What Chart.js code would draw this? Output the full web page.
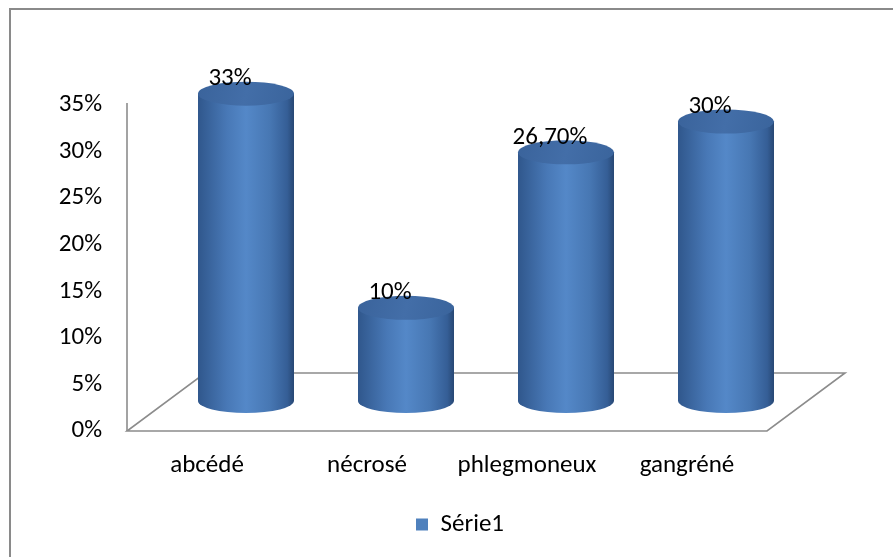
<!DOCTYPE html>
<html>
<head>
<meta charset="utf-8">
<script src="https://cdn.jsdelivr.net/npm/chart.js@4"></script>
<style>
  html, body { margin: 0; padding: 0; overflow: hidden; background: #fff; }
  #frame { position: absolute; left: 9px; top: 8px; width: 920px; height: 600px;
           border-left: 2px solid #8a8a8a; border-top: 2px solid #8a8a8a; }
  #wrap { position: absolute; left: 0; top: 0; width: 893px; height: 557px; }
</style>
</head>
<body>
<div id="frame"></div>
<div id="wrap"><canvas id="c" width="893" height="557"></canvas></div>
<script>
// Data
const categories = ['abcédé', 'nécrosé', 'phlegmoneux', 'gangréné'];
const values = [33, 10, 26.7, 30];
const valueLabels = ['33%', '10%', '26,70%', '30%'];
const yTicks = [0, 5, 10, 15, 20, 25, 30, 35];
const seriesName = 'Série1';

const FONT = 'Carlito, Lato, sans-serif';
const FONT_SIZE = 25;
const DEPTH = { x: 78, y: 58 };    // depth of the 3D floor
const BAR_SHIFT = { x: 39, y: 30 }; // cylinders stand halfway into the floor
const RY = 12;                      // vertical radius of cylinder ellipses

// Draws the 3D floor, the cylinders and their value labels
const cylinders = {
  id: 'cylinders',
  beforeDatasetsDraw(chart) {
    const { ctx, chartArea: a, scales: { y } } = chart;
    ctx.save();
    ctx.strokeStyle = '#8c8c8c';
    ctx.lineWidth = 1.6;
    // vertical axis line
    ctx.beginPath();
    ctx.moveTo(a.left, y.getPixelForValue(yTicks[yTicks.length - 1]) - 2);
    ctx.lineTo(a.left, a.bottom);
    ctx.stroke();
    // floor
    ctx.beginPath();
    ctx.moveTo(a.left, a.bottom);
    ctx.lineTo(a.right, a.bottom);
    ctx.lineTo(a.right + DEPTH.x, a.bottom - DEPTH.y);
    ctx.lineTo(a.left + DEPTH.x, a.bottom - DEPTH.y);
    ctx.closePath();
    ctx.stroke();

    const meta = chart.getDatasetMeta(0);
    meta.data.forEach((el, i) => {
      const cx = el.x + BAR_SHIFT.x;
      const yTop = el.y - BAR_SHIFT.y;
      const yBase = el.base - BAR_SHIFT.y;
      const rx = el.width / 2;

      // body
      const g = ctx.createLinearGradient(cx - rx, 0, cx + rx, 0);
      g.addColorStop(0, '#30578c');
      g.addColorStop(0.3, '#4878b6');
      g.addColorStop(0.5, '#5488c8');
      g.addColorStop(0.75, '#4777b3');
      g.addColorStop(0.93, '#355e96');
      g.addColorStop(1, '#284874');
      ctx.beginPath();
      ctx.moveTo(cx - rx, yTop);
      ctx.lineTo(cx - rx, yBase);
      ctx.ellipse(cx, yBase, rx, RY, 0, Math.PI, 0, true);
      ctx.lineTo(cx + rx, yTop);
      ctx.closePath();
      ctx.fillStyle = g;
      ctx.fill();

      // top face
      const gt = ctx.createLinearGradient(cx - rx, yTop - RY, cx + rx, yTop + RY);
      gt.addColorStop(0, '#3a639b');
      gt.addColorStop(0.5, '#436ea8');
      gt.addColorStop(1, '#3a649c');
      ctx.beginPath();
      ctx.ellipse(cx, yTop, rx, RY, 0, 0, Math.PI * 2);
      ctx.fillStyle = gt;
      ctx.fill();

      // value label
      ctx.fillStyle = '#000';
      ctx.font = FONT_SIZE + 'px ' + FONT;
      ctx.textAlign = 'center';
      ctx.textBaseline = 'middle';
      ctx.fillText(valueLabels[i], cx - 16, yTop - RY - 3);
    });
    ctx.restore();
    return false;
  }
};

new Chart(document.getElementById('c'), {
  type: 'bar',
  data: {
    labels: categories,
    datasets: [{
      label: seriesName,
      data: values,
      backgroundColor: '#4f81bd',
      borderWidth: 0,
      barPercentage: 0.6,
      categoryPercentage: 1.0
    }]
  },
  options: {
    responsive: false,
    animation: false,
    devicePixelRatio: 1,
    layout: { padding: { left: 27, right: 0, top: 105, bottom: 10 } },
    plugins: {
      tooltip: { enabled: false },
      legend: {
        position: 'bottom',
        labels: {
          font: { family: FONT, size: FONT_SIZE },
          color: '#000',
          boxWidth: 12,
          boxHeight: 12,
          padding: 8
        }
      }
    },
    scales: {
      x: {
        grid: { display: false, drawTicks: false },
        border: { display: false },
        ticks: { font: { family: FONT, size: FONT_SIZE }, color: '#000', padding: 20, maxRotation: 0 },
        afterFit(s) { s.height = 73; }
      },
      y: {
        min: yTicks[0],
        max: yTicks[yTicks.length - 1],
        afterBuildTicks(s) { s.ticks = yTicks.map(v => ({ value: v })); },
        grid: { display: false, drawTicks: false },
        border: { display: false },
        ticks: { font: { family: FONT, size: FONT_SIZE }, color: '#000', padding: 25, callback: v => v + '%' },
        afterFit(s) { s.width = 100; }
      },
      yr: {
        position: 'right',
        display: true,
        grid: { display: false, drawTicks: false },
        border: { display: false },
        ticks: { display: false },
        afterFit(s) { s.width = 126; }
      }
    }
  },
  plugins: [cylinders]
});
</script>
</body>
</html>
